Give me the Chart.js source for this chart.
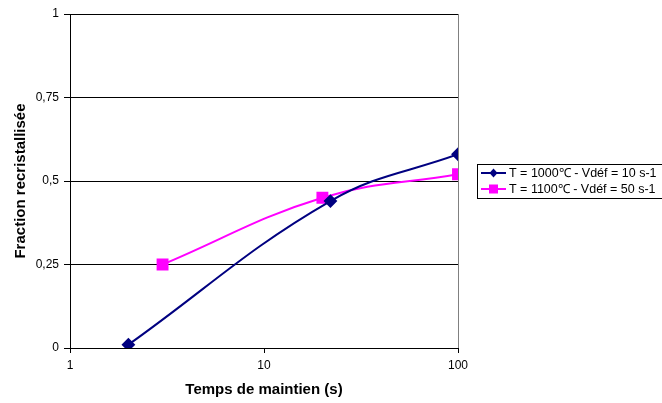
<!DOCTYPE html>
<html><head><meta charset="utf-8">
<script src="https://cdn.jsdelivr.net/npm/chart.js@4/dist/chart.umd.min.js"></script>
<style>html,body{margin:0;padding:0;background:#fff}#w{width:662px;height:403px}</style>
</head><body><div id="w"><canvas id="c" width="662" height="403"></canvas></div>
<script>
const seriesNames = ["T = 1000\u2103 - Vdéf = 10 s-1", "T = 1100\u2103 - Vdéf = 50 s-1"];
const timesA = [2, 22, 100];
const fractionA = [0.01, 0.44, 0.58];
const timesB = [3, 20, 100];
const fractionB = [0.25, 0.45, 0.52];
const xTicks = [1, 10, 100];
const yTicks = [0, 0.25, 0.5, 0.75, 1];
const xTitle = "Temps de maintien (s)";
const yTitle = "Fraction recristallisée";

const font = "'Liberation Sans', Arial, sans-serif";
const colors = ["#000080", "#FF00FF"];

const legendPlugin = {
  id: 'boxLegend',
  afterDraw(chart) {
    const ctx = chart.ctx;
    ctx.save();
    ctx.strokeStyle = '#000';
    ctx.lineWidth = 1;
    ctx.strokeRect(477.5, 164.5, 190, 34);
    const ca = chart.chartArea;
    ctx.strokeStyle = '#808080';
    ctx.beginPath();
    ctx.moveTo(Math.round(ca.right) + 0.5, ca.top);
    ctx.lineTo(Math.round(ca.right) + 0.5, ca.bottom);
    ctx.stroke();
    const rows = [173, 189];
    chart.data.datasets.forEach((ds, i) => {
      const y = rows[i];
      ctx.strokeStyle = ds.borderColor;
      ctx.lineWidth = 2;
      ctx.beginPath(); ctx.moveTo(481, y); ctx.lineTo(506, y); ctx.stroke();
      ctx.fillStyle = ds.backgroundColor;
      if (ds.pointStyle === 'rect') {
        ctx.fillRect(489, y - 4.5, 9, 9);
      } else {
        ctx.beginPath();
        ctx.moveTo(493.5, y - 4.5); ctx.lineTo(497.5, y); ctx.lineTo(493.5, y + 4.5); ctx.lineTo(489.5, y);
        ctx.closePath(); ctx.fill();
      }
      ctx.fillStyle = '#000';
      ctx.font = "12.5px " + font;
      ctx.textBaseline = 'middle';
      ctx.textAlign = 'left';
      ctx.fillText(ds.label, 509, y + 0.5);
    });
    ctx.restore();
  }
};

new Chart(document.getElementById('c'), {
  type: 'line',
  data: {
    datasets: [
      {
        label: seriesNames[0],
        data: timesA.map((x, i) => ({x: x, y: fractionA[i]})),
        borderColor: colors[0], backgroundColor: colors[0],
        borderWidth: 2, pointStyle: 'rectRot', pointRadius: 5.5,
        tension: 0.4, cubicInterpolationMode: 'default'
      },
      {
        label: seriesNames[1],
        data: timesB.map((x, i) => ({x: x, y: fractionB[i]})),
        borderColor: colors[1], backgroundColor: colors[1],
        borderWidth: 2, pointStyle: 'rect', pointRadius: 7,
        tension: 0.4, cubicInterpolationMode: 'default'
      }
    ]
  },
  options: {
    responsive: false, animation: false,
    layout: { padding: { left: 0, right: 204, top: 14, bottom: 0 } },
    plugins: { legend: { display: false }, tooltip: { enabled: false } },
    scales: {
      x: {
        type: 'logarithmic', min: 1, max: 100,
        afterBuildTicks(s) { s.ticks = xTicks.map(v => ({value: v})); },
        afterFit(s) { s.height = 55; },
        ticks: { color: '#000', font: { family: font, size: 12 }, padding: 5, maxRotation: 0,
          callback: (v) => String(v) },
        grid: { drawOnChartArea: false, drawTicks: true, tickLength: 5, color: '#000' },
        border: { color: '#000', width: 1 },
        title: { display: true, text: xTitle, color: '#000', font: { family: font, size: 15, weight: 'bold' }, padding: { top: 4, bottom: 4 } }
      },
      y: {
        min: 0, max: 1,
        afterBuildTicks(s) { s.ticks = yTicks.map(v => ({value: v})); },
        afterFit(s) { s.width = 70; },
        ticks: { color: '#000', font: { family: font, size: 12 }, padding: 5,
          callback: (v) => String(v).replace('.', ',') },
        grid: { color: '#000', drawTicks: true, tickLength: 6 },
        border: { color: '#000', width: 1 },
        title: { display: true, text: yTitle, color: '#000', font: { family: font, size: 15, weight: 'bold' }, padding: { top: 12, bottom: 0 } }
      }
    }
  },
  plugins: [legendPlugin]
});
</script></body></html>
